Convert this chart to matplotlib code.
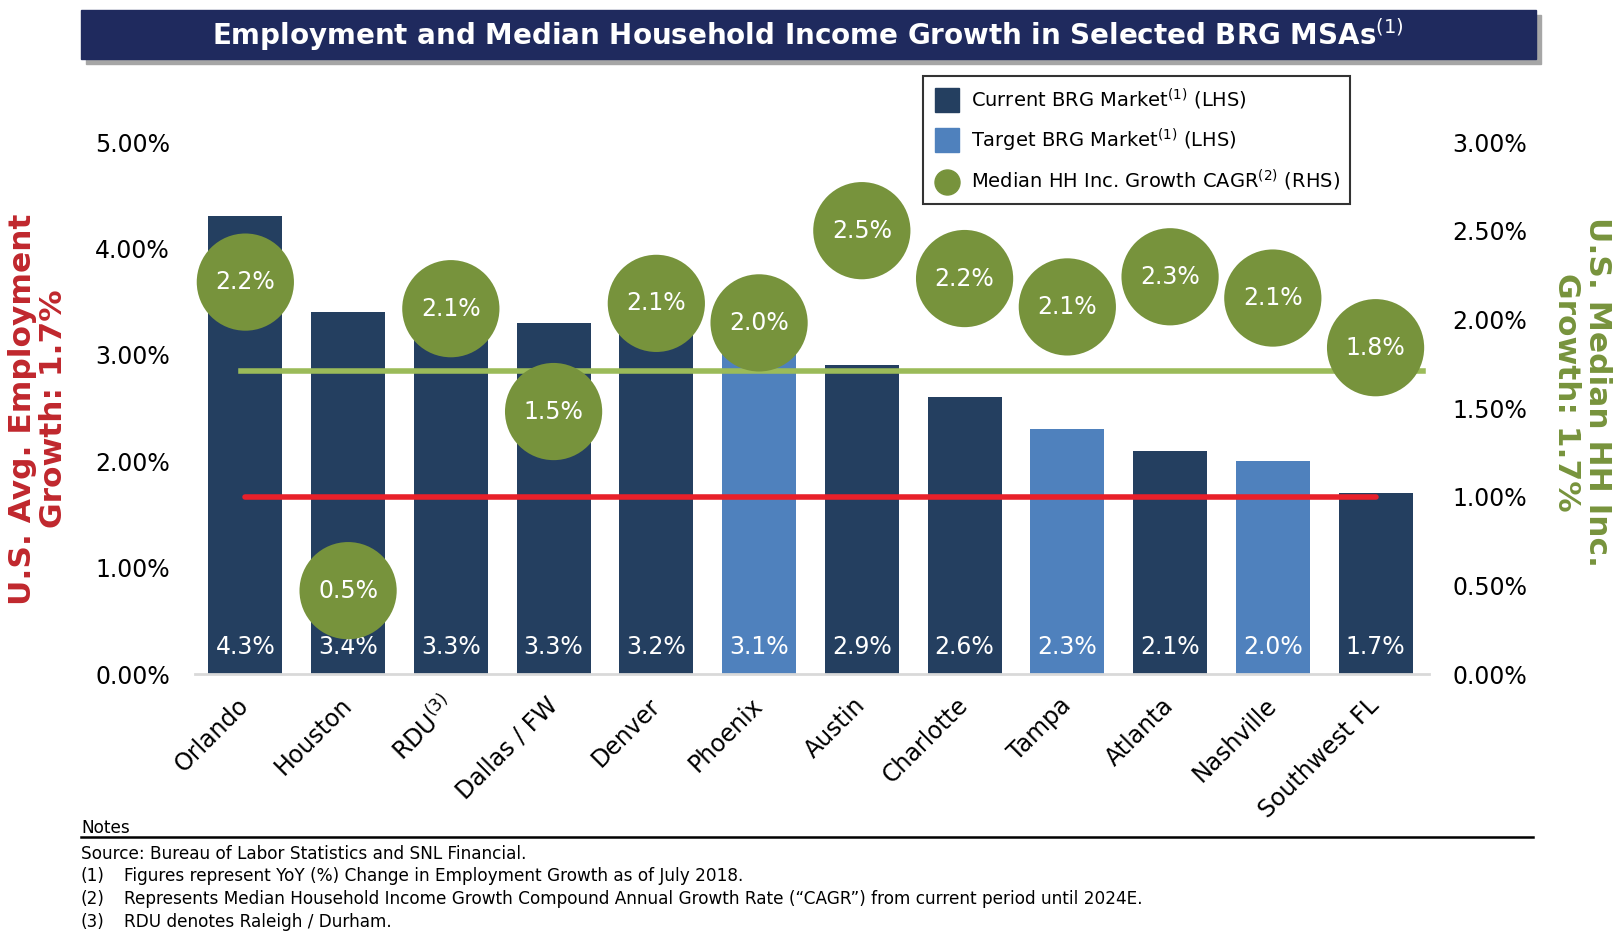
import numpy as np
import matplotlib
matplotlib.use("Agg")
import matplotlib.pyplot as plt
from matplotlib.patches import Rectangle
from matplotlib.lines import Line2D

# %% data
cities = ["Orlando", "Houston", "RDU$^{(3)}$", "Dallas / FW", "Denver", "Phoenix",
          "Austin", "Charlotte", "Tampa", "Atlanta", "Nashville", "Southwest FL"]
emp_growth = [4.3, 3.4, 3.3, 3.3, 3.2, 3.1, 2.9, 2.6, 2.3, 2.1, 2.0, 1.7]
is_target = [False, False, False, False, False, True, False, False, True, False, True, False]
hh_growth = [2.21, 0.47, 2.06, 1.48, 2.09, 1.98, 2.50, 2.23, 2.07, 2.24, 2.12, 1.84]
hh_labels = ["2.2%", "0.5%", "2.1%", "1.5%", "2.1%", "2.0%", "2.5%", "2.2%", "2.1%", "2.3%", "2.1%", "1.8%"]
us_emp_avg = 1.66
us_hh_avg = 1.71
left_ticks = [0, 1, 2, 3, 4, 5]
right_ticks = [0, 0.5, 1.0, 1.5, 2.0, 2.5, 3.0]

# %% colours
navy = "#243F60"
light_blue = "#4F81BD"
olive = "#77933C"
light_green = "#9BBB59"
red = "#E8202A"
label_red = "#C0272D"
title_bg = "#1F2A5E"

plt.rcParams["font.family"] = ["DejaVu Sans"]

W, H = 1624, 933
fig = plt.figure(figsize=(W / 100, H / 100), dpi=100)

ax = fig.add_axes([195 / W, 1 - 674 / H, (1429 - 195) / W, (674 - 142) / H])
ax2 = ax.twinx()

x = np.arange(len(cities))
colors = [light_blue if t else navy for t in is_target]
ax.bar(x, emp_growth, width=0.72, color=colors, zorder=2)
for xi, v in zip(x, emp_growth):
    ax.text(xi, 0.25, f"{v:.1f}%", color="white", ha="center", va="center",
            fontsize=17, zorder=3)

ax.plot([0, 11], [us_emp_avg, us_emp_avg], color=red, lw=4, zorder=4, solid_capstyle="round")

ax.set_xlim(-0.49, 11.52)
ax.set_ylim(0, 5)
ax2.set_ylim(0, 3)
ax.set_yticks(left_ticks)
ax.set_yticklabels([f"{t:.2f}%" for t in left_ticks])
ax2.set_yticks(right_ticks)
ax2.set_yticklabels([f"{t:.2f}%" for t in right_ticks])
ax.set_xticks(x)
ax.set_xticklabels(cities, rotation=45, ha="right", va="center", rotation_mode="anchor")

for a in (ax, ax2):
    for s in a.spines.values():
        s.set_visible(False)
    a.tick_params(length=0, labelsize=17)
ax.tick_params(axis="y", pad=18)
ax2.tick_params(axis="y", pad=17)
ax.tick_params(axis="x", pad=20)
ax.spines["bottom"].set_visible(True)
ax.spines["bottom"].set_color("#D9D9D9")
ax.spines["bottom"].set_linewidth(2)

ax2.plot([-0.04, 11.46], [us_hh_avg, us_hh_avg], color=light_green, lw=4, zorder=2)
ax2.scatter(x, hh_growth, s=70 ** 2, color=olive, edgecolors="none", zorder=3)
for xi, v, lab in zip(x, hh_growth, hh_labels):
    ax2.text(xi, v, lab, color="white", ha="center", va="center",
             fontsize=17, zorder=4)

# side labels
fig.text(38 / W, 1 - 409 / H, "U.S. Avg. Employment\nGrowth: 1.7%", rotation=90,
         color=label_red, fontsize=22.5, fontweight="bold", ha="center", va="center",
         multialignment="center", linespacing=1.05)
fig.text(1582 / W, 1 - 392 / H, "U.S. Median HH Inc.\nGrowth: 1.7%", rotation=270,
         color=olive, fontsize=22.5, fontweight="bold", ha="center", va="center",
         multialignment="center", linespacing=1.05)

# title banner
fig.patches.append(Rectangle((86 / W, 1 - 64 / H), (1536 - 81) / W, 49 / H,
                             transform=fig.transFigure, color="#A6A6A6", zorder=0))
fig.patches.append(Rectangle((81 / W, 1 - 59 / H), (1536 - 81) / W, 49 / H,
                             transform=fig.transFigure, color=title_bg, zorder=1))
fig.text(808 / W, 1 - 35 / H, "Employment and Median Household Income Growth in Selected BRG MSAs$^{(1)}$",
         color="white", fontsize=20, fontweight="bold", ha="center", va="center")

# legend
handles = [
    Line2D([], [], marker="s", ls="none", color=navy, markersize=17),
    Line2D([], [], marker="s", ls="none", color=light_blue, markersize=17),
    Line2D([], [], marker="o", ls="none", color=olive, markersize=18),
]
labels = ["Current BRG Market$^{(1)}$ (LHS)", "Target BRG Market$^{(1)}$ (LHS)",
          "Median HH Inc. Growth CAGR$^{(2)}$ (RHS)"]
leg = fig.legend(handles, labels, loc="upper left", bbox_to_anchor=(923 / W, 1 - 76 / H),
                 fontsize=14, frameon=True, fancybox=False, edgecolor="black",
                 labelspacing=0.75, handletextpad=0.5, borderpad=0.55,
                 handlelength=1.4, borderaxespad=0)
leg.get_frame().set_linewidth(1.5)

# notes
fig.text(81 / W, 1 - 828 / H, "Notes", fontsize=12.2, ha="left", va="center")
fig.add_artist(Line2D([81 / W, 1533 / W], [1 - 837 / H, 1 - 837 / H], color="black", lw=1.8))
fig.text(81 / W, 1 - 854 / H, "Source: Bureau of Labor Statistics and SNL Financial.",
         fontsize=12.2, ha="left", va="center")
notes = ["Figures represent YoY (%) Change in Employment Growth as of July 2018.",
         "Represents Median Household Income Growth Compound Annual Growth Rate (\u201cCAGR\u201d) from current period until 2024E.",
         "RDU denotes Raleigh / Durham."]
for i, n in enumerate(notes):
    yy = 1 - (876 + 23 * i) / H
    fig.text(81 / W, yy, f"({i + 1})", fontsize=12.2, ha="left", va="center")
    fig.text(124 / W, yy, n, fontsize=12.2, ha="left", va="center")

fig.savefig("out.png", dpi=100)
